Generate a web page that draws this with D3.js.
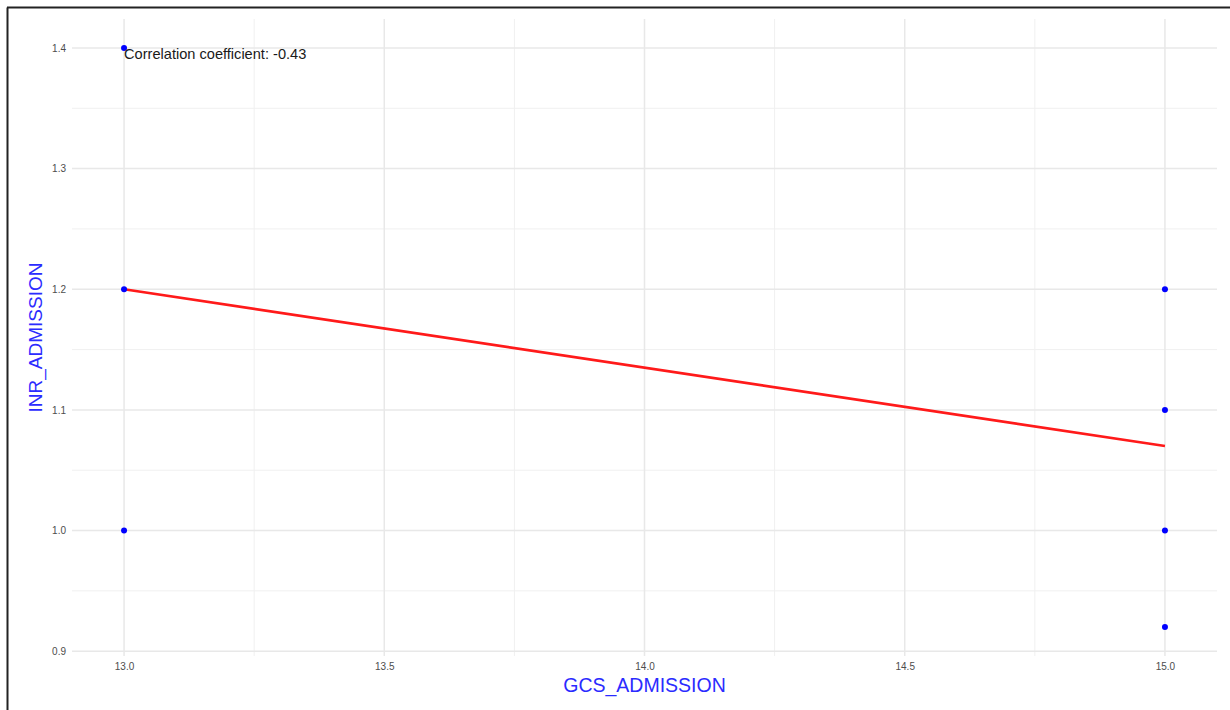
<!DOCTYPE html>
<html lang="en">
  <head>
    <meta charset="utf-8" />
    <title>GCS vs INR</title>
    <script type="text/javascript" src="https://cdn.jsdelivr.net/npm/d3@7"></script>
    <style>
      body { margin: 0; background: white; }
    </style>
  </head>
  <body>
    <script type="text/javascript">
// data
var gcs = [13, 13, 13, 15, 15, 15, 15];
var inr = [1.4, 1.2, 1.0, 1.2, 1.1, 1.0, 0.92];
var fitX = [13, 15];
var fitY = [1.2, 1.07];
var xTicks = [13.0, 13.5, 14.0, 14.5, 15.0];
var yTicks = [0.9, 1.0, 1.1, 1.2, 1.3, 1.4];
var corrLabel = "Correlation coefficient: -0.43";

var w = 1230;
var h = 710;
var pad = { left: 72, right: 13, top: 19, bottom: 54 };

var svg = d3.select("body")
            .append("svg")
            .attr("width", w)
            .attr("height", h);

// frame (left + top only)
svg.append("line")
   .attr("x1", 7.5).attr("y1", 7.5).attr("x2", 7.5).attr("y2", h)
   .attr("stroke", "#222").attr("stroke-width", 2);
svg.append("line")
   .attr("x1", 7).attr("y1", 7.5).attr("x2", w).attr("y2", 7.5)
   .attr("stroke", "#222").attr("stroke-width", 2);

var xScale = d3.scaleLinear()
               .domain([12.9, 15.1])
               .range([pad.left, w - pad.right]);
var yScale = d3.scaleLinear()
               .domain([0.896, 1.424])
               .range([h - pad.bottom, pad.top]);

var grid = svg.append("g").attr("id", "grid");
var xMinor = [13.25, 13.75, 14.25, 14.75];
var yMinor = [0.95, 1.05, 1.15, 1.25, 1.35];

grid.selectAll("line.xminor")
    .data(xMinor).enter().append("line")
    .attr("x1", function(d) { return xScale(d); })
    .attr("x2", function(d) { return xScale(d); })
    .attr("y1", pad.top).attr("y2", h - pad.bottom)
    .attr("stroke", "#f0f0f0").attr("stroke-width", 1);
grid.selectAll("line.yminor")
    .data(yMinor).enter().append("line")
    .attr("y1", function(d) { return yScale(d); })
    .attr("y2", function(d) { return yScale(d); })
    .attr("x1", pad.left).attr("x2", w - pad.right)
    .attr("stroke", "#f0f0f0").attr("stroke-width", 1);
grid.selectAll("line.xmajor")
    .data(xTicks).enter().append("line")
    .attr("x1", function(d) { return xScale(d); })
    .attr("x2", function(d) { return xScale(d); })
    .attr("y1", pad.top).attr("y2", h - pad.bottom)
    .attr("stroke", "#e8e8e8").attr("stroke-width", 1.5);
grid.selectAll("line.ymajor")
    .data(yTicks).enter().append("line")
    .attr("y1", function(d) { return yScale(d); })
    .attr("y2", function(d) { return yScale(d); })
    .attr("x1", pad.left).attr("x2", w - pad.right)
    .attr("stroke", "#e8e8e8").attr("stroke-width", 1.5);

// axes (labels only)
var xAxis = svg.append("g")
   .attr("transform", "translate(0," + (h - pad.bottom) + ")")
   .call(d3.axisBottom(xScale).tickValues(xTicks).tickFormat(d3.format(".1f")).tickSize(0).tickPadding(7));
var yAxis = svg.append("g")
   .attr("transform", "translate(" + pad.left + ",0)")
   .call(d3.axisLeft(yScale).tickValues(yTicks).tickFormat(d3.format(".1f")).tickSize(0).tickPadding(6));
[xAxis, yAxis].forEach(function(a) {
  a.select(".domain").remove();
  a.selectAll("text")
   .attr("fill", "#4d4d4d")
   .attr("font-family", "Liberation Sans, Arial, sans-serif")
   .attr("font-size", "10px");
});

// regression line
svg.append("line")
   .attr("x1", xScale(fitX[0])).attr("y1", yScale(fitY[0]))
   .attr("x2", xScale(fitX[1])).attr("y2", yScale(fitY[1]))
   .attr("stroke", "#ff1a1a")
   .attr("stroke-width", 2.6);

// points
svg.append("g")
   .selectAll("circle")
   .data(gcs)
   .enter()
   .append("circle")
   .attr("cx", function(d) { return xScale(d); })
   .attr("cy", function(d, i) { return yScale(inr[i]); })
   .attr("r", 3)
   .attr("fill", "#0000ff");

// annotation
svg.append("text")
   .text(corrLabel)
   .attr("x", xScale(13))
   .attr("y", yScale(1.4) + 11)
   .attr("font-family", "Liberation Sans, Arial, sans-serif")
   .attr("font-size", "14.6px")
   .attr("fill", "#1a1a1a");

// axis titles
svg.append("text")
   .text("GCS_ADMISSION")
   .attr("x", (pad.left + w - pad.right) / 2)
   .attr("y", 692)
   .attr("text-anchor", "middle")
   .attr("font-family", "Liberation Sans, Arial, sans-serif")
   .attr("font-size", "19.5px")
   .attr("fill", "#2b2bff");
svg.append("text")
   .text("INR_ADMISSION")
   .attr("transform", "translate(42," + ((pad.top + h - pad.bottom) / 2) + ") rotate(-90)")
   .attr("text-anchor", "middle")
   .attr("font-family", "Liberation Sans, Arial, sans-serif")
   .attr("font-size", "19px")
   .attr("fill", "#2b2bff");
    </script>
  </body>
</html>
